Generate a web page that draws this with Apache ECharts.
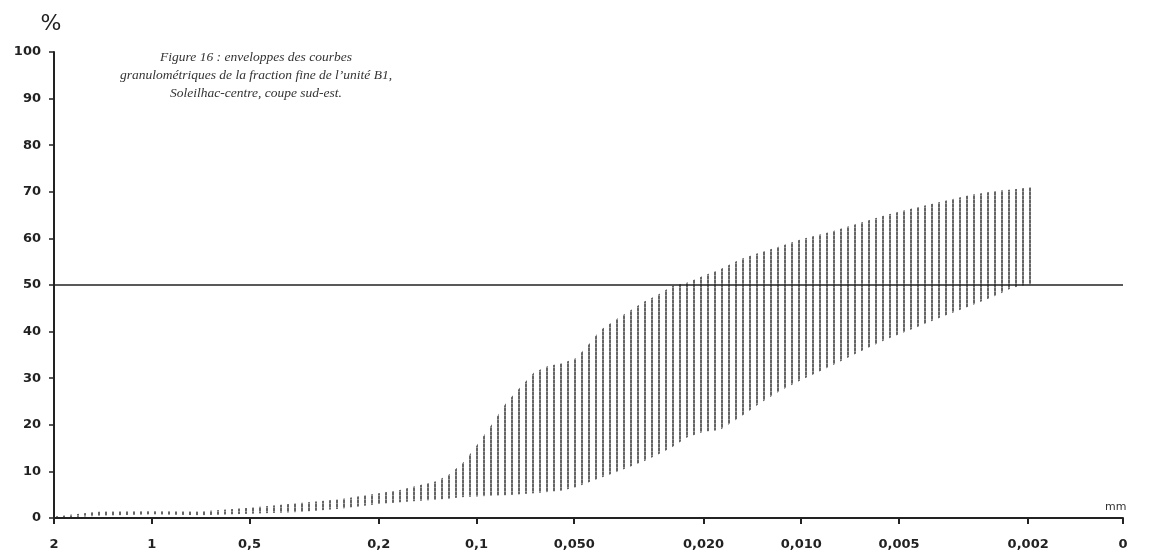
<!DOCTYPE html>
<html>
<head>
<meta charset="utf-8">
<script src="https://cdn.jsdelivr.net/npm/echarts@6/dist/echarts.min.js"></script>
<style>
    html, body { margin: 0; padding: 0; background: #fff; }
    #chart { width: 1149px; height: 554px; }
</style>
</head>
<body>
<div id="chart"></div>
<script>
//////////////////////////////////////////////////////////////////
// [ Data ]

// grain size (mm) where the two envelopes were read
const sizes = [2, 1.44, 1.0, 0.71, 0.5, 0.35, 0.263, 0.2, 0.172, 0.149, 0.133, 0.121, 0.109, 0.1,
    0.0896, 0.0811, 0.0734, 0.0665, 0.0602, 0.0545, 0.0494, 0.0453, 0.0416, 0.0372, 0.0337, 0.0305,
    0.0276, 0.025, 0.0225, 0.02, 0.0178, 0.0154, 0.0134, 0.0116, 0.01, 0.00815, 0.00668, 0.00548,
    0.00449, 0.00368, 0.00302, 0.00248, 0.00224, 0.00196];

// upper envelope (% passing)
const upperEnv = [0.3, 1.4, 1.5, 1.4, 2.2, 3.2, 4.0, 5.3, 6.0, 7.1, 7.9, 9.4, 12.1, 15.5,
    20.1, 24.7, 28.0, 31.2, 32.6, 33.2, 34.3, 37.1, 40.3, 42.6, 44.5, 46.4,
    47.9, 49.8, 50.5, 52.0, 53.3, 55.5, 57.0, 58.3, 59.8, 61.4, 63.2, 65.0,
    66.5, 67.9, 69.3, 70.2, 70.5, 71.0];

// lower envelope (% passing)
const lowerEnv = [0, 0.5, 0.8, 0.6, 0.9, 1.3, 2.0, 3.0, 3.4, 3.7, 3.9, 4.2, 4.5, 4.6,
    4.8, 4.9, 5.1, 5.3, 5.6, 5.9, 6.6, 7.6, 8.6, 9.8, 11.0, 12.2,
    13.6, 15.2, 17.3, 18.5, 18.9, 21.7, 24.6, 27.3, 29.6, 32.5, 35.5, 38.3,
    40.7, 43.2, 45.5, 47.9, 49.4, 50.2];

const tickSizes = [2, 1, 0.5, 0.2, 0.1, 0.05, 0.02, 0.01, 0.005, 0.002];
const tickLabels = ['2', '1', '0,5', '0,2', '0,1', '0,050', '0,020', '0,010', '0,005', '0,002', '0'];
const medianLevel = 50;

const titleLines = [
    'Figure 16 : enveloppes des courbes',
    'granulométriques de la fraction fine de l\u2019unité B1,',
    'Soleilhac-centre, coupe sud-est.'
];

//////////////////////////////////////////////////////////////////
// [ Scale helpers ]

// position along the axis in decades, counted from 2 mm toward the fine end
function xOf(d) {
    return Math.log10(tickSizes[0] / d);
}

const zeroAt = 3.292; // where the drawing puts its "0" mark
const tickPos = tickSizes.map(xOf).concat(zeroAt);

const upperData = sizes.map((d, i) => [xOf(d), upperEnv[i]]);
const lowerData = sizes.map((d, i) => [xOf(d), lowerEnv[i]]);

const labelFont = {
    fontFamily: 'DejaVu Sans',
    fontWeight: 'bold',
    fontSize: 13,
    color: '#222'
};

// vertical hatching used to fill the band between the envelopes
function hatchPattern() {
    const c = document.createElement('canvas');
    c.width = 7;
    c.height = 4;
    const ctx = c.getContext('2d');
    ctx.fillStyle = '#666';
    ctx.fillRect(0, 0, 2, 3);
    ctx.fillStyle = '#999';
    ctx.fillRect(0, 3, 2, 1);
    return c;
}

//////////////////////////////////////////////////////////////////
// [ Chart ]

const chart = echarts.init(document.getElementById('chart'));

chart.setOption({
    animation: false,
    backgroundColor: '#fff',
    title: {
        text: titleLines.join('\n'),
        left: 251,
        top: 43,
        textAlign: 'center',
        textStyle: {
            fontFamily: 'Liberation Serif',
            fontStyle: 'italic',
            fontWeight: 'normal',
            fontSize: 13.5,
            lineHeight: 18,
            color: '#333'
        }
    },
    grid: { left: 54, right: 26, top: 52, bottom: 36 },
    xAxis: {
        type: 'value',
        min: 0,
        max: zeroAt,
        z: 5,
        axisLine: { show: true, lineStyle: { color: '#222', width: 2 } },
        axisTick: {
            show: true,
            customValues: tickPos,
            length: 6,
            lineStyle: { color: '#222', width: 2 }
        },
        axisLabel: Object.assign({
            customValues: tickPos,
            margin: 20,
            formatter: v => {
                const i = tickPos.findIndex(t => Math.abs(t - v) < 1e-6);
                return i < 0 ? '' : tickLabels[i];
            }
        }, labelFont),
        splitLine: { show: false }
    },
    yAxis: {
        type: 'value',
        min: 0,
        max: 100,
        interval: 10,
        z: 5,
        name: '%',
        nameLocation: 'end',
        nameGap: 17,
        nameTextStyle: { fontFamily: 'DejaVu Sans', fontSize: 22, color: '#222', padding: [0, 6, 0, 0] },
        axisLine: { show: true, lineStyle: { color: '#222', width: 2 } },
        axisTick: { show: true, length: 5, lineStyle: { color: '#222', width: 1.5 } },
        axisLabel: Object.assign({ margin: 13 }, labelFont),
        splitLine: { show: false }
    },
    graphic: [{
        type: 'text',
        left: 1105,
        top: 502,
        style: { text: 'mm', font: '11px "DejaVu Sans"', fill: '#333' }
    }],
    series: [
        {
            // hatched from the upper envelope down to the axis
            name: 'upper',
            type: 'line',
            data: upperData,
            symbol: 'none',
            silent: true,
            z: 2,
            lineStyle: { width: 0 },
            areaStyle: {
                color: { image: hatchPattern(), repeat: 'repeat' },
                opacity: 1
            }
        },
        {
            // blanks everything under the lower envelope
            name: 'lower',
            type: 'line',
            data: lowerData,
            symbol: 'none',
            silent: true,
            z: 3,
            lineStyle: { width: 0 },
            areaStyle: { color: '#fff', opacity: 1 }
        },
        {
            name: 'median',
            type: 'line',
            data: [],
            silent: true,
            z: 4,
            markLine: {
                silent: true,
                symbol: 'none',
                label: { show: false },
                lineStyle: { color: '#222', width: 1.5, type: 'solid' },
                data: [{ yAxis: medianLevel }]
            }
        }
    ]
});
</script>
</body>
</html>
